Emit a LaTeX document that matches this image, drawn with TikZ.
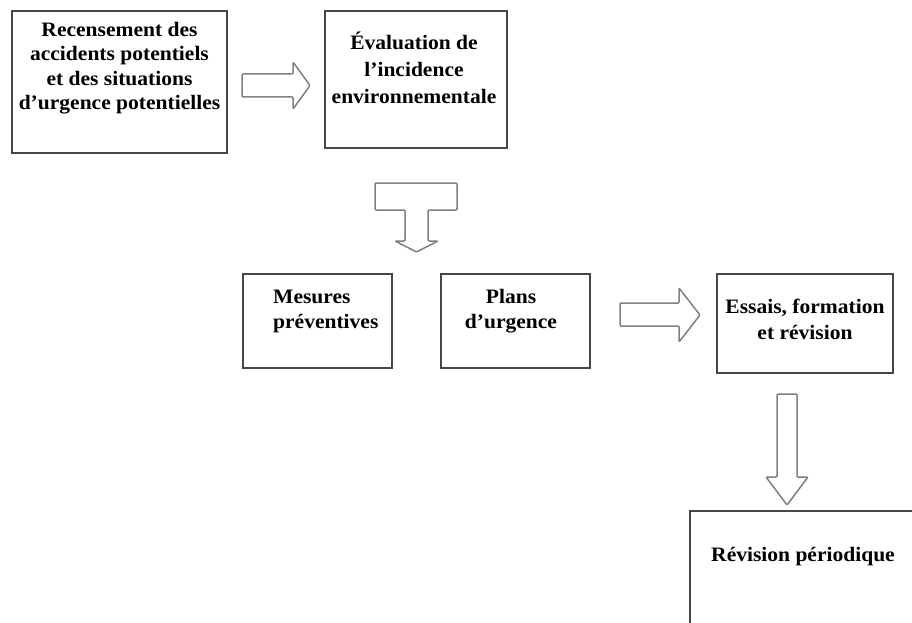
\documentclass[tikz,border=0pt]{standalone}
\usepackage{fontspec}
\setmainfont{Liberation Serif}[FakeStretch=1.05]
\usepackage{tikz}

\begin{document}
\begin{tikzpicture}
[%%%%%%%%%%%%%%%%%%%%%%%%%%%%%%
x=1pt, y=-1pt,
box/.style={rectangle,draw=black!72,line width=2.2pt,inner sep=0pt},
txt/.style={align=center,anchor=base,inner sep=0pt,font=\fontsize{20.5}{24.5}\selectfont\bfseries},
blockarrow/.style={draw=black!50,line width=1.5pt,line join=round,rounded corners=1pt,fill=white},
]%%%%%%%%%%%%%%%%%%%%%%%%%%%%%%

\useasboundingbox (0,0) rectangle (912,623);

\node[box,minimum width=215pt,minimum height=142pt] (recensement) at (119.5,82){};
\node[box,minimum width=182pt,minimum height=137pt] (evaluation) at (416,79.5){};
\node[box,minimum width=149pt,minimum height=94pt] (mesures) at (317.5,321){};
\node[box,minimum width=149pt,minimum height=94pt] (plans) at (515.5,321){};
\node[box,minimum width=176pt,minimum height=99pt] (essais) at (805,323.5){};
\draw[draw=black!72,line width=2.2pt] (912,511) -- (690,511) -- (690,623);

\node[txt] (recensementtxt) at (119.5,110){Recensement des\\accidents potentiels\\et des situations\\d’urgence potentielles};
\node[txt,font=\fontsize{20.5}{27.3}\selectfont\bfseries] (evaluationtxt) at (414,104){Évaluation de\\l’incidence\\environnementale};
\node[txt,align=left,anchor=base west] (mesurestxt) at (273,328.3){Mesures\\préventives};
\node[txt] (planstxt) at (511,328.3){Plans\\d’urgence};
\node[txt,font=\fontsize{20.5}{26}\selectfont\bfseries] (essaistxt) at (805,339){Essais, formation\\et révision};
\node[txt] (revisiontxt) at (803,561.7){Révision périodique};

\draw[blockarrow] (242,74) -- (293,74) -- (293,62) -- (310,85.5) -- (293,109) -- (293,97) -- (242,97) -- cycle;
\draw[blockarrow] (375,183) -- (457,183) -- (457,210) -- (428,210) -- (428,241) -- (438,241) -- (416.5,252) -- (395,241) -- (405,241) -- (405,210) -- (375,210) -- cycle;
\draw[blockarrow] (620,303) -- (679,303) -- (679,288) -- (700,315) -- (679,342) -- (679,326) -- (620,326) -- cycle;
\draw[blockarrow] (777,394) -- (797,394) -- (797,477) -- (808,477) -- (787,505) -- (766,477) -- (777,477) -- cycle;
\end{tikzpicture}
\end{document}
